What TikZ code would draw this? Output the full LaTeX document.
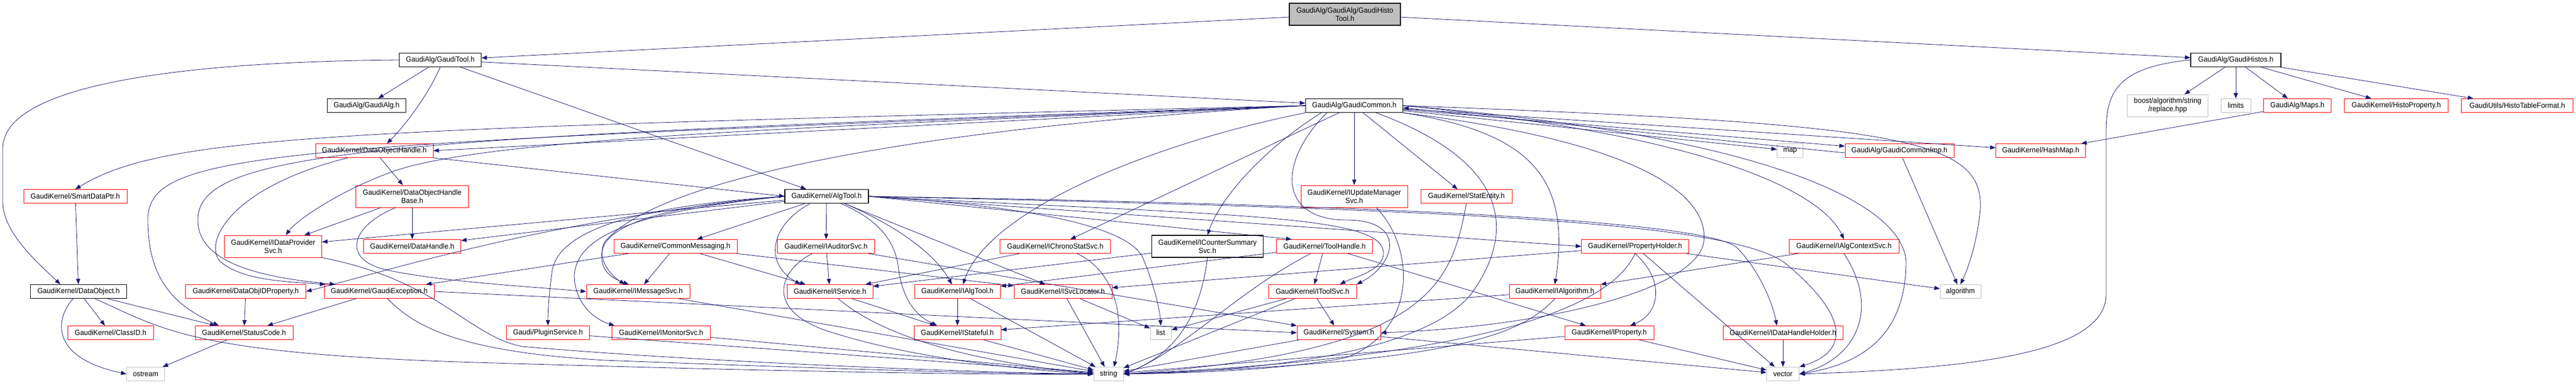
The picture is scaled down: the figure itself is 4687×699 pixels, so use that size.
\documentclass[tikz,border=0pt]{standalone}
\usepackage{fontspec}
\usetikzlibrary{arrows.meta}
\newfontfamily\dotfont{Liberation Sans}[FakeStretch=0.95]
\definecolor{edgeblue}{RGB}{25,25,112}
\definecolor{hdrred}{RGB}{255,0,0}
\definecolor{hdrgray}{RGB}{191,191,191}

\begin{document}
\begin{tikzpicture}[x = 1pt, y = -1pt,
    filebox/.style = {rectangle, draw, align=center, inner xsep=3pt, inner ysep=2pt,
        minimum height=25pt, font=\dotfont\fontsize{13.5}{15}\selectfont},
    blackbox/.style = {filebox, draw=black, line width=1.2pt},
    redbox/.style = {filebox, draw=hdrred, line width=0.9pt},
    sysbox/.style = {filebox, draw=hdrgray, line width=0.9pt},
    inc/.style = {draw=edgeblue, line width=0.8pt, -{Triangle[length=10pt, width=7.5pt]}}]
    \useasboundingbox (0,0) rectangle (4687,699);
    % rank 0 and 1
    \node[blackbox, fill=hdrgray, minimum width=202pt, minimum height=40pt] (histotool) at (2447,26) {GaudiAlg/GaudiAlg/GaudiHisto\\Tool.h};
    \node[blackbox, minimum width=149pt] (gauditool) at (801,109) {GaudiAlg/GaudiTool.h};
    \node[blackbox, minimum width=164pt] (gaudihistos) at (4068,109) {GaudiAlg/GaudiHistos.h};
    % rank 2
    \node[blackbox, minimum width=143pt] (gaudialg) at (667,192) {GaudiAlg/GaudiAlg.h};
    \node[blackbox, minimum width=177pt] (gaudicommon) at (2464,192) {GaudiAlg/GaudiCommon.h};
    \node[sysbox, minimum width=147pt, minimum height=40pt] (boostrepl) at (3944,192) {boost/algorithm/string\\/replace.hpp};
    \node[sysbox, minimum width=54pt] (limits) at (4068,192) {limits};
    \node[redbox, minimum width=123pt] (maps) at (4180,192) {GaudiAlg/Maps.h};
    \node[redbox, minimum width=189pt] (histoprop) at (4360,192) {GaudiKernel/HistoProperty.h};
    \node[redbox, minimum width=203pt] (histotable) at (4580,192) {GaudiUtils/HistoTableFormat.h};
    % rank 3
    \node[redbox, minimum width=214pt] (dohandle) at (681,274) {GaudiKernel/DataObjectHandle.h};
    \node[sysbox, minimum width=47pt] (map) at (3257,274) {map};
    \node[redbox, minimum width=198pt] (commonimp) at (3456,274) {GaudiAlg/GaudiCommonImp.h};
    \node[redbox, minimum width=163pt] (hashmap) at (3713,274) {GaudiKernel/HashMap.h};
    % rank 4
    \node[redbox, minimum width=188pt] (smartptr) at (137,357) {GaudiKernel/SmartDataPtr.h};
    \node[redbox, minimum width=205pt, minimum height=40pt] (dohbase) at (750,357) {GaudiKernel/DataObjectHandle\\Base.h};
    \node[blackbox, minimum width=152pt] (algtool) at (1504,357) {GaudiKernel/AlgTool.h};
    \node[redbox, minimum width=194pt, minimum height=40pt] (updmgr) at (2464,357) {GaudiKernel/IUpdateManager\\Svc.h};
    \node[redbox, minimum width=166pt] (statentity) at (2668,357) {GaudiKernel/StatEntity.h};
    % rank 5
    \node[redbox, minimum width=177pt, minimum height=40pt] (dataprov) at (497,448) {GaudiKernel/IDataProvider\\Svc.h};
    \node[redbox, minimum width=177pt] (datahandle) at (750,448) {GaudiKernel/DataHandle.h};
    \node[redbox, minimum width=224pt] (commonmsg) at (1229,448) {GaudiKernel/CommonMessaging.h};
    \node[redbox, minimum width=177pt] (auditorsvc) at (1503,448) {GaudiKernel/IAuditorSvc.h};
    \node[redbox, minimum width=201pt] (chronosvc) at (1920,448) {GaudiKernel/IChronoStatSvc.h};
    \node[blackbox, minimum width=203pt, minimum height=40pt] (countersvc) at (2197,448) {GaudiKernel/ICounterSummary\\Svc.h};
    \node[redbox, minimum width=175pt] (toolhandle) at (2410,448) {GaudiKernel/ToolHandle.h};
    \node[redbox, minimum width=195pt] (propholder) at (2975,448) {GaudiKernel/PropertyHolder.h};
    \node[redbox, minimum width=200pt] (algctxsvc) at (3355,448) {GaudiKernel/IAlgContextSvc.h};
    % rank 6
    \node[blackbox, minimum width=175pt] (dataobject) at (143,530) {GaudiKernel/DataObject.h};
    \node[redbox, minimum width=219pt] (objidprop) at (447,530) {GaudiKernel/DataObjIDProperty.h};
    \node[redbox, minimum width=200pt] (gaudiexc) at (690,530) {GaudiKernel/GaudiException.h};
    \node[redbox, minimum width=188pt] (msgsvc) at (1161,530) {GaudiKernel/IMessageSvc.h};
    \node[redbox, minimum width=156pt] (service) at (1510,530) {GaudiKernel/IService.h};
    \node[redbox, minimum width=156pt] (ialgtool) at (1742,530) {GaudiKernel/IAlgTool.h};
    \node[redbox, minimum width=178pt] (svclocator) at (1934,530) {GaudiKernel/ISvcLocator.h};
    \node[redbox, minimum width=160pt] (toolsvc) at (2388,530) {GaudiKernel/IToolSvc.h};
    \node[redbox, minimum width=166pt] (ialgorithm) at (2829,530) {GaudiKernel/IAlgorithm.h};
    \node[sysbox, minimum width=74pt] (stdalgorithm) at (3567,530) {algorithm};
    % rank 7
    \node[redbox, minimum width=156pt] (classid) at (201,605) {GaudiKernel/ClassID.h};
    \node[redbox, minimum width=178pt] (statuscode) at (444,605) {GaudiKernel/StatusCode.h};
    \node[redbox, minimum width=151pt] (pluginsvc) at (997,605) {Gaudi/PluginService.h};
    \node[redbox, minimum width=179pt] (monitorsvc) at (1203,605) {GaudiKernel/IMonitorSvc.h};
    \node[redbox, minimum width=158pt] (stateful) at (1742,605) {GaudiKernel/IStateful.h};
    \node[sysbox, minimum width=38pt] (list) at (2112,605) {list};
    \node[redbox, minimum width=152pt] (system) at (2436,605) {GaudiKernel/System.h};
    \node[redbox, minimum width=162pt] (property) at (2928,605) {GaudiKernel/IProperty.h};
    \node[redbox, minimum width=218pt] (dhholder) at (3244,605) {GaudiKernel/IDataHandleHolder.h};
    % rank 8
    \node[sysbox, minimum width=69pt] (ostream) at (265,680) {ostream};
    \node[sysbox, minimum width=54pt] (string) at (2017,680) {string};
    \node[sysbox, minimum width=59pt] (vector) at (3244,680) {vector};

    % GaudiHistoTool.h
    \draw[inc] (histotool) -- (gauditool);
    \draw[inc] (histotool) -- (gaudihistos);
    % GaudiTool.h
    \draw[inc] (gauditool) -- (gaudialg);
    \draw[inc] (gauditool.south) .. controls (780,170) and (740,225) .. ([xshift=23pt]dohandle.north);
    \draw[inc] (gauditool) -- (algtool);
    \draw[inc] (gauditool) -- (gaudicommon);
    \draw[inc] (gauditool.west) .. controls (350,112) and (5,150) .. (5,270) -- (5,366) .. controls (5,420) and (60,470) .. ([xshift=55pt]dataobject.north west);
    % GaudiHistos.h
    \draw[inc] (gaudihistos) -- (boostrepl);
    \draw[inc] (gaudihistos) -- (limits);
    \draw[inc] (gaudihistos) -- (maps);
    \draw[inc] (gaudihistos) -- (histoprop);
    \draw[inc] (gaudihistos) -- (histotable);
    \draw[inc] (gaudihistos.west) .. controls (3850,122) and (3832,170) .. (3832,240) -- (3832,535) .. controls (3832,640) and (3600,670) .. (vector.east);
    \draw[inc] (maps) -- (hashmap);
    % GaudiCommon.h
    \draw[inc] (gaudicommon) -- (map);
    \draw[inc] (gaudicommon) -- (commonimp);
    \draw[inc] (gaudicommon) -- (hashmap);
    \draw[inc] (gaudicommon.east) .. controls (3450,225) and (3610,250) .. (3603,380) .. controls (3598,440) and (3580,490) .. (stdalgorithm.north);
    \draw[inc] (gaudicommon.east) .. controls (3250,250) and (3470,380) .. (3468,480) .. controls (3466,600) and (3400,660) .. (vector.east);
    \draw[inc] (gaudicommon.east) .. controls (3150,250) and (3320,360) .. (algctxsvc.north);
    \draw[inc] (gaudicommon) -- (updmgr);
    \draw[inc] (gaudicommon) -- (statentity);
    \draw[inc] (gaudicommon.south east) .. controls (2780,240) and (2860,320) .. (ialgorithm.north);
    \draw[inc] (gaudicommon.south east) .. controls (3000,260) and (3110,360) .. (3100,440) .. controls (3085,530) and (2800,595) .. (system.east);
    \draw[inc] ([xshift=40pt]gaudicommon.south) .. controls (2760,300) and (2750,430) .. (2680,530) .. controls (2600,640) and (2300,675) .. (string.east);
    \draw[inc] (gaudicommon) -- (chronosvc);
    \draw[inc] ([xshift=-60pt]gaudicommon.south) .. controls (2300,270) and (2220,360) .. (countersvc.north);
    \draw[inc] (gaudicommon.south west) .. controls (2100,260) and (1800,380) .. ([xshift=10pt]ialgtool.north);
    \draw[inc] ([xshift=-50pt]gaudicommon.south) .. controls (2320,300) and (2330,400) .. (2450,400) .. controls (2560,400) and (2540,480) .. (toolsvc.north east);
    \draw[inc] (gaudicommon.west) .. controls (1700,230) and (1200,320) .. (1100,440) .. controls (1085,470) and (1110,500) .. ([xshift=-24pt]msgsvc.north);
    \draw[inc] (gaudicommon.west) .. controls (1500,230) and (900,250) .. (720,310) .. controls (620,345) and (540,400) .. ([xshift=23pt]dataprov.north);
    \draw[inc] (gaudicommon.west) -- (dohandle.east);
    \draw[inc] (gaudicommon.west) .. controls (600,235) and (300,245) .. (smartptr.north);
    \draw[inc] (gaudicommon.west) .. controls (500,265) and (269,270) .. (269,400) .. controls (269,520) and (330,560) .. ([xshift=-46pt]statuscode.north);
    \draw[inc] (gaudicommon.west) .. controls (700,250) and (360,270) .. (360,400) .. controls (360,480) and (480,505) .. ([xshift=-80pt]gaudiexc.north);
    % GaudiCommonImp.h
    \draw[inc] ([yshift=-4pt]commonimp.west) -- ([yshift=-4pt]gaudicommon.east);
    \draw[inc] (commonimp) -- (stdalgorithm);
    % DataObjectHandle.h
    \draw[inc] (dohandle) -- (dohbase);
    \draw[inc] (dohandle.south east) -- (algtool.west);
    \draw[inc] ([xshift=-48pt]dohandle.south) .. controls (420,340) and (370,440) .. (400,475) .. controls (440,510) and (520,512) .. ([xshift=-98pt]gaudiexc.north);
    \draw[inc] (dohbase) -- (dataprov);
    \draw[inc] (dohbase) -- (datahandle);
    \draw[inc] ([xshift=-30pt]dohbase.south) .. controls (640,410) and (620,470) .. (700,490) .. controls (800,512) and (950,520) .. (msgsvc.west);
    % DataObject.h
    \draw[inc] (smartptr) -- (dataobject);
    \draw[inc] (dataobject) -- (classid);
    \draw[inc] (dataobject) -- (statuscode);
    \draw[inc] ([xshift=-10pt]dataobject.south) .. controls (100,580) and (90,650) .. (ostream.west);
    \draw[inc] ([xshift=30pt]dataobject.south) .. controls (300,600) and (350,645) .. (900,660) .. controls (1400,675) and (1800,682) .. (string.west);
    \draw[inc] (objidprop) -- (statuscode);
    \draw[inc] (gaudiexc) -- (statuscode);
    \draw[inc] (gaudiexc.east) -- (system.west);
    \draw[inc] ([xshift=15pt]gaudiexc.south) .. controls (760,600) and (850,640) .. (1100,655) .. controls (1500,670) and (1800,680) .. (string.west);
    \draw[inc] (statuscode) -- (ostream);
    % AlgTool.h
    \draw[inc] (algtool) -- (auditorsvc);
    \draw[inc] (algtool) -- (commonmsg);
    \draw[inc] (algtool) -- (svclocator);
    \draw[inc] (algtool) -- (dataprov);
    \draw[inc] (algtool) -- (datahandle);
    \draw[inc] (algtool.east) -- ([xshift=-60pt]toolhandle.north);
    \draw[inc] (algtool.east) -- (propholder.west);
    \draw[inc] ([xshift=-30pt]algtool.south) .. controls (1400,410) and (1390,480) .. ([xshift=25pt]service.north west);
    \draw[inc] ([xshift=26pt]algtool.south) .. controls (1600,400) and (1630,440) .. (1635,490) .. controls (1645,560) and (1680,580) .. ([xshift=-37pt]stateful.north);
    \draw[inc] ([xshift=33pt]algtool.south) .. controls (1630,410) and (1700,460) .. ([xshift=-10pt]ialgtool.north);
    \draw[inc] (algtool.east) .. controls (1800,370) and (2050,400) .. (2080,470) .. controls (2100,520) and (2110,560) .. (list.north);
    \draw[inc] (algtool.east) .. controls (2200,390) and (2490,390) .. (2515,450) .. controls (2530,490) and (2460,505) .. ([xshift=50pt]toolsvc.north);
    \draw[inc] (algtool.east) .. controls (2500,372) and (3100,400) .. (3160,450) .. controls (3200,490) and (3225,550) .. ([xshift=-11pt]dhholder.north);
    \draw[inc] (algtool.east) .. controls (2600,380) and (3150,400) .. (3250,480) .. controls (3370,580) and (3360,640) .. (vector.north east);
    \draw[inc] (algtool.west) .. controls (1000,400) and (750,480) .. (objidprop.east);
    \draw[inc] (algtool.west) .. controls (1250,370) and (1100,400) .. (1095,460) .. controls (1092,490) and (1110,505) .. ([xshift=-17pt]msgsvc.north);
    \draw[inc] (algtool.west) .. controls (1150,375) and (1020,420) .. (1005,490) .. controls (998,540) and (997,570) .. (pluginsvc.north);
    \draw[inc] (algtool.west) .. controls (1150,385) and (1050,430) .. (1045,500) .. controls (1045,550) and (1080,580) .. ([xshift=5pt]monitorsvc.north west);
    % CommonMessaging.h, IAuditorSvc.h
    \draw[inc] (commonmsg) -- (msgsvc);
    \draw[inc] (commonmsg) -- (service);
    \draw[inc] (commonmsg) -- (svclocator);
    \draw[inc] (commonmsg) -- (gaudiexc);
    \draw[inc] (auditorsvc) -- (service);
    \draw[inc] (auditorsvc) -- (system);
    \draw[inc] ([xshift=-25pt]auditorsvc.south) .. controls (1420,490) and (1390,560) .. (1500,600) .. controls (1650,650) and (1850,672) .. (string.west);
    % services
    \draw[inc] (chronosvc) -- (service);
    \draw[inc] ([xshift=40pt]chronosvc.south) .. controls (2020,490) and (2050,560) .. ([xshift=10pt]string.north);
    \draw[inc] (countersvc) -- (service);
    \draw[inc] (countersvc.south) .. controls (2185,560) and (2150,640) .. (string.east);
    \draw[inc] (toolhandle) -- (toolsvc);
    \draw[inc] (toolhandle) -- (ialgtool);
    \draw[inc] (toolhandle) -- (property);
    \draw[inc] (toolhandle) .. controls (2250,530) and (2150,640) .. (string.east);
    \draw[inc] (toolsvc) -- (list);
    \draw[inc] (toolsvc) -- (system);
    \draw[inc] (toolsvc) -- (string);
    \draw[inc] (svclocator) -- (list);
    \draw[inc] (svclocator) -- (string);
    \draw[inc] (service) -- (stateful);
    \draw[inc] (service) .. controls (1580,590) and (1700,650) .. (string.west);
    \draw[inc] (ialgtool) -- (stateful);
    \draw[inc] (ialgtool) -- (string);
    \draw[inc] (stateful) -- (string);
    \draw[inc] (msgsvc) -- (string);
    \draw[inc] (pluginsvc) -- (string);
    \draw[inc] (monitorsvc) -- (string);
    \draw[inc] (dataprov.south east) .. controls (800,510) and (850,610) .. (950,630) .. controls (1300,660) and (1800,678) .. (string.west);
    \draw[inc] (system) -- (string);
    \draw[inc] (system) -- (vector);
    \draw[inc] ([xshift=40pt]updmgr.south) .. controls (2575,450) and (2580,600) .. (2450,650) .. controls (2350,670) and (2200,678) .. (string.east);
    \draw[inc] (statentity.south) .. controls (2640,520) and (2600,640) .. (string.east);
    \draw[inc] (ialgorithm) -- (stateful);
    \draw[inc] (ialgorithm.south) .. controls (2760,620) and (2600,660) .. (string.east);
    \draw[inc] (property) -- (string);
    \draw[inc] (property) -- (vector);
    % PropertyHolder.h, IAlgContextSvc.h
    \draw[inc] (propholder) -- (svclocator);
    \draw[inc] (propholder.south) .. controls (3030,510) and (3020,570) .. ([xshift=38pt]property.north);
    \draw[inc] (propholder) -- (stdalgorithm);
    \draw[inc] (propholder.south) .. controls (2930,560) and (2700,650) .. (string.east);
    \draw[inc] (propholder) -- (vector);
    \draw[inc] (algctxsvc) -- (ialgorithm);
    \draw[inc] (algctxsvc.south) .. controls (3420,560) and (3380,650) .. (vector.east);
    \draw[inc] (dhholder) -- (vector);
\end{tikzpicture}
\end{document}
